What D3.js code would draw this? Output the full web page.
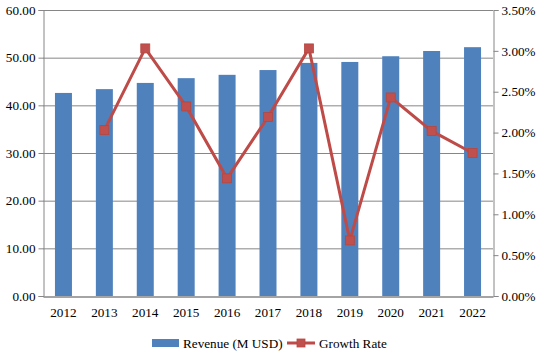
<!DOCTYPE html>
<html><head><meta charset="utf-8">
<script src="https://cdn.jsdelivr.net/npm/d3@7"></script>
<style>body{margin:0;background:#fff}svg{display:block}
svg text{font-family:"Liberation Serif","Times New Roman",serif !important;font-size:13.2px;fill:#000}</style>
</head><body>
<script>
const years = ["2012","2013","2014","2015","2016","2017","2018","2019","2020","2021","2022"];
const revenue = [42.6,43.4,44.7,45.7,46.4,47.4,48.9,49.1,50.3,51.4,52.2];
const growth = [null,2.03,3.03,2.32,1.44,2.19,3.03,0.68,2.43,2.02,1.75];
const leftTicks = [0,10,20,30,40,50,60];
const rightTicks = [0,0.5,1,1.5,2,2.5,3,3.5];
const seriesNames = ["Revenue (M USD)","Growth Rate"];

const W=540,H=355;
const m={l:43,r:47,t:10,b:59};
const svg=d3.select("body").append("svg").attr("width",W).attr("height",H);
const x=d3.scaleBand().domain(years).range([m.l,W-m.r]);
const yL=d3.scaleLinear().domain([0,60]).range([H-m.b,m.t]);
const yR=d3.scaleLinear().domain([0,3.5]).range([H-m.b,m.t]);
const grid="#868686";

// gridlines
svg.append("g").selectAll("line").data(leftTicks.slice(1)).join("line")
 .attr("x1",m.l).attr("x2",W-m.r).attr("y1",d=>yL(d)+0.5).attr("y2",d=>yL(d)+0.5)
 .attr("stroke",grid).attr("stroke-width",1);

// bars
const bw=17;
svg.append("g").selectAll("rect").data(years).join("rect")
 .attr("x",(d)=>x(d)+x.bandwidth()/2-bw/2).attr("width",bw)
 .attr("y",(d,i)=>yL(revenue[i])).attr("height",(d,i)=>yL(0)-yL(revenue[i]))
 .attr("fill","#4F81BD");

// axes
const gL=svg.append("g").attr("transform",`translate(${m.l+0.5},0)`)
 .call(d3.axisLeft(yL).tickValues(leftTicks).tickFormat(d3.format(".2f")).tickSize(5).tickPadding(3));
const gR=svg.append("g").attr("transform",`translate(${W-m.r+0.5},0)`)
 .call(d3.axisRight(yR).tickValues(rightTicks).tickFormat(d=>d.toFixed(2)+"%").tickSize(5).tickPadding(3));
const gX=svg.append("g").attr("transform",`translate(0,${H-m.b+0.5})`)
 .call(d3.axisBottom(x).tickSize(0).tickPadding(11));
[gL,gR,gX].forEach(g=>{
  g.attr("font-family",null).attr("font-size",null);
  g.selectAll("path.domain").attr("stroke",grid).attr("stroke-width",1);
  g.selectAll(".tick line").attr("stroke",grid);
});
gX.select("path.domain").attr("stroke-width",1.5);

// line
const pts=years.map((d,i)=>({x:x(d)+x.bandwidth()/2,v:growth[i]})).filter(p=>p.v!=null);
svg.append("path").datum(pts)
 .attr("d",d3.line().x(p=>p.x).y(p=>yR(p.v)))
 .attr("fill","none").attr("stroke","#BE4B48").attr("stroke-width",3);
const ms=9;
svg.append("g").selectAll("rect").data(pts).join("rect")
 .attr("x",p=>p.x-ms/2).attr("y",p=>yR(p.v)-ms/2).attr("width",ms).attr("height",ms)
 .attr("fill","#C0504D").attr("stroke","#B7463F").attr("stroke-width",0.8);

// legend
const lg=svg.append("g");
lg.append("rect").attr("x",152).attr("y",339).attr("width",27).attr("height",8).attr("fill","#4F81BD");
lg.append("text").attr("x",183).attr("y",347.5).text(seriesNames[0]);
lg.append("line").attr("x1",287).attr("x2",315).attr("y1",343).attr("y2",343).attr("stroke","#BE4B48").attr("stroke-width",3);
lg.append("rect").attr("x",297).attr("y",339).attr("width",8).attr("height",8).attr("fill","#C0504D").attr("stroke","#B7463F").attr("stroke-width",0.8);
lg.append("text").attr("x",319).attr("y",347.5).text(seriesNames[1]);
</script>
</body></html>
